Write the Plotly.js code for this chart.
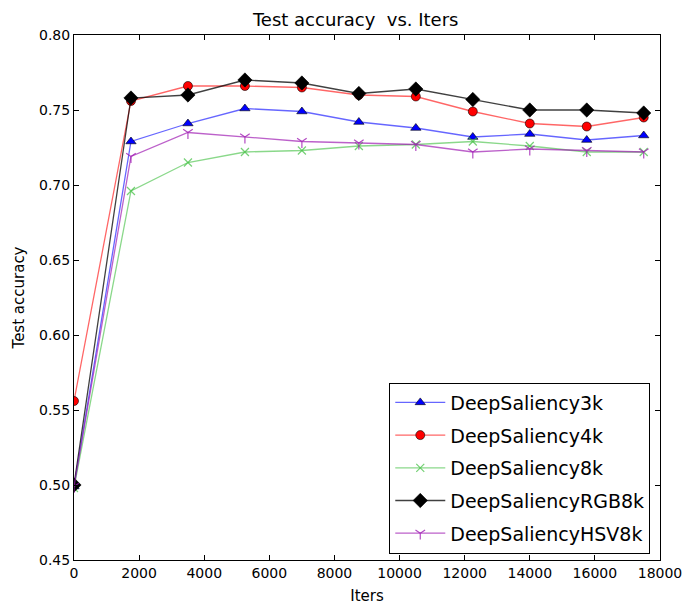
<!DOCTYPE html>
<html><head><meta charset="utf-8">
<script src="https://cdn.plot.ly/plotly-3.0.1.min.js"></script>
<style>body{margin:0;background:#fff}#chart{width:684px;height:607px}</style>
</head><body><div id="chart"></div>
<script>
const iters = [0, 1750, 3500, 5250, 7000, 8750, 10500, 12250, 14000, 15750, 17500];
const acc3k    = [0.499, 0.729, 0.741, 0.751, 0.749, 0.742, 0.738, 0.732, 0.734, 0.730, 0.733];
const acc4k    = [0.556, 0.756, 0.766, 0.766, 0.765, 0.760, 0.759, 0.749, 0.741, 0.739, 0.745];
const acc8k    = [0.498, 0.696, 0.715, 0.722, 0.723, 0.726, 0.727, 0.729, 0.726, 0.722, 0.722];
const accRGB8k = [0.500, 0.758, 0.760, 0.770, 0.768, 0.761, 0.764, 0.757, 0.750, 0.750, 0.748];
const accHSV8k = [0.499, 0.719, 0.735, 0.732, 0.729, 0.728, 0.727, 0.722, 0.724, 0.723, 0.722];
const names = ["DeepSaliency3k", "DeepSaliency4k", "DeepSaliency8k", "DeepSaliencyRGB8k", "DeepSaliencyHSV8k"];

const F = "DejaVu Sans, sans-serif";
function tr(y, name, lineColor, mColor, symbol, size, mline) {
  return {x: iters, y: y, name: name, legendgroup: name, type: "scatter", mode: "lines+markers",
    line: {color: lineColor, width: 1.3},
    marker: {symbol: symbol, size: size, color: mColor, line: mline}};
}
const data = [
  tr(acc3k, names[0], "rgba(0,0,255,0.6)", "#0000ff", "triangle-up", 9, {color: "#000", width: 0.6}),
  tr(acc4k, names[1], "rgba(255,0,0,0.6)", "#ff0000", "circle", 9, {color: "#000", width: 0.6}),
  tr(acc8k, names[2], "rgba(60,190,60,0.6)", "rgba(60,190,60,0.7)", "x-thin", 8, {color: "rgba(60,190,60,0.7)", width: 1.2}),
  tr(accRGB8k, names[3], "rgba(0,0,0,0.75)", "#000000", "diamond", 11, {color: "#000", width: 0.6}),
  tr(accHSV8k, names[4], "rgba(160,30,180,0.7)", "rgba(160,30,180,0.8)", "y-down", 8, {color: "rgba(160,30,180,0.8)", width: 1.2})
];
const layout = {
  width: 684, height: 607,
  margin: {l: 74, r: 24, t: 35, b: 47},
  paper_bgcolor: "#fff", plot_bgcolor: "#fff",
  font: {family: F, color: "#000", size: 14},
  title: {text: "Test accuracy  vs. Iters", font: {family: F, size: 18, color: "#000"}, x: 0.52, xanchor: "center", y: 0.978, yanchor: "top"},
  xaxis: {range: [0, 18000], dtick: 2000, tick0: 0, tickformat: "d", showgrid: false, zeroline: false,
    showline: true, linecolor: "#000", linewidth: 1, mirror: "ticks", ticks: "inside", ticklen: 5, tickcolor: "#000",
    tickfont: {family: F, size: 14}, title: {text: "Iters", font: {family: F, size: 15}, standoff: 10}},
  yaxis: {range: [0.45, 0.80], dtick: 0.05, tick0: 0.45, tickformat: ".2f", showgrid: false, zeroline: false,
    showline: true, linecolor: "#000", linewidth: 1, mirror: "ticks", ticks: "inside", ticklen: 5, tickcolor: "#000",
    tickfont: {family: F, size: 14}, title: {text: "Test accuracy", font: {family: F, size: 15}, standoff: 10}},
  legend: {x: 0.538, xanchor: "left", y: 0.338, yanchor: "top", bgcolor: "#fff", bordercolor: "#000", borderwidth: 1,
    font: {family: F, size: 19, color: "#000"}, tracegroupgap: 5, itemwidth: 50},
  showlegend: true
};
Plotly.newPlot("chart", data, layout, {displayModeBar: false, staticPlot: true});
</script></body></html>
